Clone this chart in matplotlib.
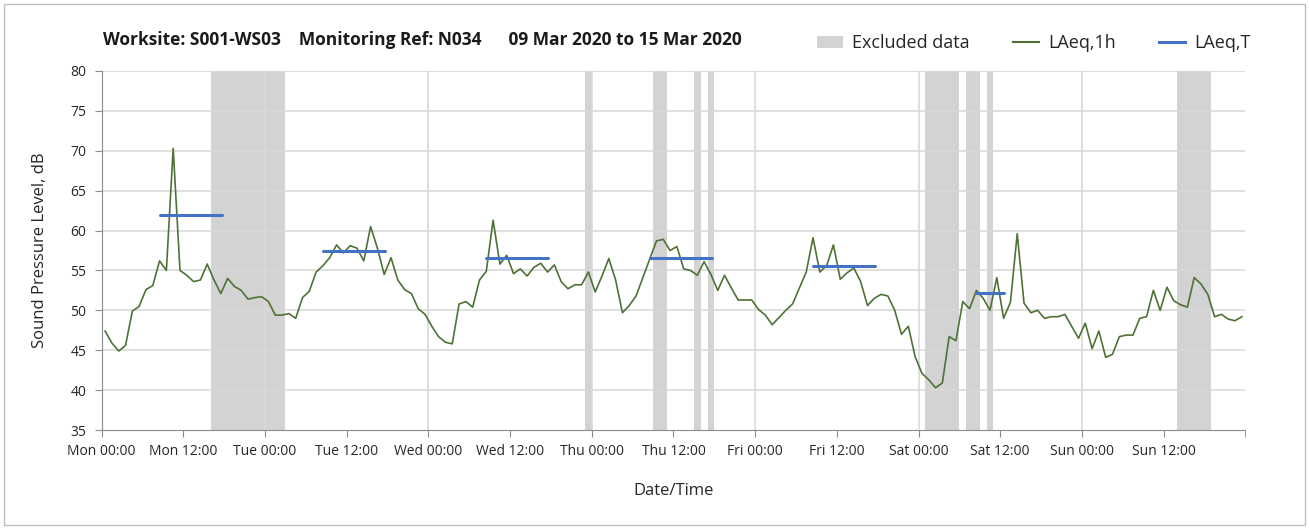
import numpy as np
import matplotlib
matplotlib.use("Agg")
import matplotlib.pyplot as plt
from matplotlib.patches import Patch, Rectangle
from matplotlib.lines import Line2D

plt.rcParams['font.family'] = ['Open Sans', 'DejaVu Sans']

# hourly LAeq,1h, Mon 00:00 .. Sun 23:00 (168 values)
laeq_1h = [
    47.4, 45.9, 44.9, 45.6, 49.9, 50.5, 52.6, 53.1, 56.2, 55.0, 70.3, 55.0,
    54.4, 53.6, 53.8, 55.8, 53.8, 52.1, 54.0, 53.0, 52.5, 51.4, 51.6, 51.7,
    51.1, 49.4, 49.4, 49.6, 49.0, 51.6, 52.4, 54.8, 55.6, 56.6, 58.2, 57.2,
    58.1, 57.8, 56.2, 60.5, 57.8, 54.5, 56.6, 53.8, 52.6, 52.1, 50.2, 49.5,
    48.0, 46.7, 46.0, 45.8, 50.8, 51.1, 50.4, 53.8, 54.9, 61.3, 55.8, 56.9,
    54.6, 55.2, 54.3, 55.4, 55.9, 54.8, 55.7, 53.6, 52.7, 53.2, 53.2, 54.8,
    52.3, 54.3, 56.5, 53.8, 49.7, 50.6, 51.8, 54.1, 56.4, 58.7, 58.9, 57.5,
    58.0, 55.2, 55.0, 54.4, 56.1, 54.5, 52.5, 54.4, 52.8, 51.3, 51.3, 51.3,
    50.1, 49.4, 48.2, 49.1, 50.0, 50.8, 52.8, 54.8, 59.1, 54.8, 55.6, 58.2,
    53.9, 54.7, 55.3, 53.6, 50.6, 51.5, 52.0, 51.8, 50.0, 47.0, 48.0, 44.2,
    42.1, 41.3, 40.3, 40.9, 46.7, 46.2, 51.1, 50.2, 52.5, 51.5, 50.0, 54.1,
    49.0, 51.0, 59.6, 50.9, 49.7, 50.0, 49.0, 49.2, 49.2, 49.5, 48.0, 46.5,
    48.4, 45.2, 47.4, 44.1, 44.5, 46.7, 46.9, 46.9, 49.0, 49.2, 52.5, 50.0,
    52.9, 51.2, 50.7, 50.4, 54.1, 53.3, 52.0, 49.2, 49.5, 48.9, 48.7, 49.2,
]

# LAeq,T periods (hours from Mon 00:00) and levels
period_start = [8.5, 32.5, 56.5, 80.5, 104.5, 128.5]
period_end = [17.6, 41.6, 65.6, 89.6, 113.6, 132.6]
laeq_t = [62.0, 57.5, 56.5, 56.5, 55.5, 52.2]

# excluded data (hours from Mon 00:00)
excl_start = [16, 71, 81, 87, 89, 121, 127, 130, 158]
excl_end = [27, 72, 83, 88, 90, 126, 129, 131, 163]

days = ['Mon', 'Tue', 'Wed', 'Thu', 'Fri', 'Sat', 'Sun']
tick_labels = [f'{d} {t}' for d in days for t in ('00:00', '12:00')]

hours = np.arange(len(laeq_1h)) + 0.5

fig = plt.figure(figsize=(13.09, 5.29), dpi=100)
fig.patches.append(Rectangle((0.003, 0.008), 0.994, 0.984, transform=fig.transFigure,
                             fill=False, edgecolor='#bfbfbf', linewidth=1.0))
ax = fig.add_axes([0.0777, 0.1871, 0.8736, 0.6787])

for s, e in zip(excl_start, excl_end):
    ax.axvspan(s, e, color='#d3d3d3', lw=0, zorder=0.2)

ax.plot(hours, laeq_1h, color='#4e7236', lw=1.2, zorder=3)
for s, e, v in zip(period_start, period_end, laeq_t):
    ax.plot([s, e], [v, v], color='#4472c4', lw=2.2, zorder=4, solid_capstyle='round')

ax.set_xlim(0, 168)
ax.set_ylim(35, 80)
ax.set_yticks(np.arange(35, 81, 5))
ax.set_xticks(np.arange(0, 169, 12)[:-1])
ax.set_xticklabels(tick_labels)
ax.set_xticks([168], minor=True)
ax.grid(False)
for y in range(40, 81, 5):
    ax.axhline(y, color='#d9d9d9', lw=1.2, zorder=0.5)
for d in range(1, 7):
    ax.axvline(d * 24, color='#d9d9d9', lw=1.2, zorder=0.5)

for sp in ['top', 'right']:
    ax.spines[sp].set_visible(False)
for sp in ['left', 'bottom']:
    ax.spines[sp].set_color('#8c8c8c')
ax.tick_params(axis='both', which='both', color='#8c8c8c', labelsize=10, labelcolor='#262626')
ax.tick_params(axis='x', which='both', direction='out', length=5, pad=5)
ax.tick_params(axis='y', direction='out', length=5, pad=6)

ax.set_ylabel('Sound Pressure Level, dB', fontsize=12, color='#262626', labelpad=16)
ax.set_xlabel('Date/Time', fontsize=12, color='#262626', labelpad=17)

fig.text(0.0785, 0.924, 'Worksite: S001-WS03    Monitoring Ref: N034      09 Mar 2020 to 15 Mar 2020',
         fontsize=12.5, fontweight='bold', color='#1a1a1a', va='center', ha='left')

handles = [Patch(facecolor='#d3d3d3', edgecolor='none'),
           Line2D([0], [0], color='#4e7236', lw=1.5),
           Line2D([0], [0], color='#4472c4', lw=2.2)]
fig.legend(handles, ['Excluded data', 'LAeq,1h', 'LAeq,T'], loc='center right',
           bbox_to_anchor=(0.968, 0.918), ncol=3, frameon=False, fontsize=13,
           handlelength=1.45, columnspacing=2.4, handletextpad=0.5, labelcolor='#262626')

fig.savefig('out.png', dpi=100)
